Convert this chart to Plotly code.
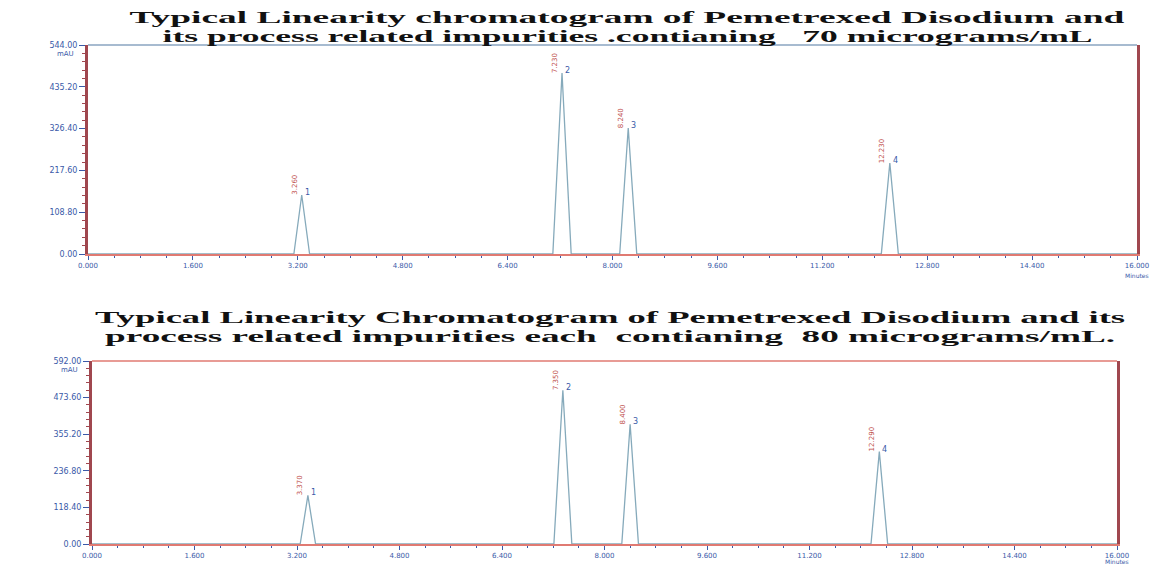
import plotly.graph_objects as go

# Run time axis (minutes) and detector response axis (mAU)
x_ticks = [0.0, 1.6, 3.2, 4.8, 6.4, 8.0, 9.6, 11.2, 12.8, 14.4, 16.0]
x_tick_labels = ["0.000", "1.600", "3.200", "4.800", "6.400", "8.000",
                 "9.600", "11.200", "12.800", "14.400", "16.000"]

# 70 microgram/mL injection
top_y_ticks = [0.0, 108.8, 217.6, 326.4, 435.2, 544.0]
top_rt = [3.26, 7.23, 8.24, 12.23]
top_height = [153.6, 471.0, 328.0, 237.0]
top_halfwidth = [0.12, 0.14, 0.13, 0.13]

# 80 microgram/mL injection
bot_y_ticks = [0.0, 118.4, 236.8, 355.2, 473.6, 592.0]
bot_rt = [3.37, 7.35, 8.40, 12.29]
bot_height = [157.0, 497.5, 387.0, 299.0]
bot_halfwidth = [0.12, 0.14, 0.13, 0.13]

peak_ids = ["1", "2", "3", "4"]

titles_top = ["Typical Linearity chromatogram of Pemetrexed Disodium and",
              "its process related impurities .contianing   70 micrograms/mL"]
titles_bot = ["Typical Linearity Chromatogram of Pemetrexed Disodium and its",
              "process related impurities each  contianing  80 micrograms/mL."]

TRACE = "#86aabb"
TICK_BLUE = "#3a5aa8"
AXIS_RED = "#a0474f"
BASE_RED = "#e07a72"
PEAK_RED = "#c0504d"
W, H = 1162, 565


def trace_xy(rt, height, hw, end=16.0):
    xs, ys = [0.0], [0.0]
    for r, h, w in zip(rt, height, hw):
        xs += [r - w, r, r + w]
        ys += [0.0, h, 0.0]
    xs.append(end)
    ys.append(0.0)
    return xs, ys


fig = go.Figure()

panels = [
    dict(rt=top_rt, h=top_height, hw=top_halfwidth, yt=top_y_ticks,
         xa="x", ya="y", xdom=[88 / W, 1137 / W], ydom=[(H - 254) / H, (H - 45) / H],
         top_line="#8aa4c0", min_shift=-16),
    dict(rt=bot_rt, h=bot_height, hw=bot_halfwidth, yt=bot_y_ticks,
         xa="x2", ya="y2", xdom=[92 / W, 1117 / W], ydom=[(H - 544) / H, (H - 361) / H],
         top_line=BASE_RED, min_shift=-12),
]

annotations = []
shapes = []
for i, p in enumerate(panels):
    xs, ys = trace_xy(p["rt"], p["h"], p["hw"])
    fig.add_trace(go.Scatter(x=xs, y=ys, mode="lines", xaxis=p["xa"], yaxis=p["ya"],
                             line=dict(color=TRACE, width=1.3), showlegend=False,
                             hoverinfo="skip"))
    for r, h, pid in zip(p["rt"], p["h"], peak_ids):
        annotations.append(dict(x=r, y=h, xref=p["xa"], yref=p["ya"], text=f"{r:.3f}",
                                textangle=-90, showarrow=False, xanchor="right",
                                yanchor="bottom", xshift=-1, yshift=-2,
                                font=dict(family="DejaVu Sans", size=7, color=PEAK_RED)))
        annotations.append(dict(x=r, y=h, xref=p["xa"], yref=p["ya"], text=pid,
                                showarrow=False, xanchor="left", yanchor="bottom",
                                xshift=1, yshift=-4,
                                font=dict(family="DejaVu Sans", size=8, color=TICK_BLUE)))
    ymax = p["yt"][-1]
    axis_common = dict(showgrid=False, zeroline=False)
    xkey = "xaxis" if i == 0 else "xaxis2"
    ykey = "yaxis" if i == 0 else "yaxis2"
    fig.update_layout(**{
        xkey: dict(domain=p["xdom"], anchor=p["ya"], range=[0, 16],
                   tickvals=x_ticks, ticktext=x_tick_labels, ticks="outside",
                   ticklen=4, tickcolor=TICK_BLUE, showline=True, linecolor=BASE_RED,
                   linewidth=1.5, mirror=False,
                   minor=dict(ticks="outside", ticklen=2, tickcolor=TICK_BLUE, dtick=0.4),
                   tickfont=dict(family="DejaVu Sans", size=7, color=TICK_BLUE),
                   automargin=False, **axis_common),
        ykey: dict(domain=p["ydom"], anchor=p["xa"], range=[0, ymax],
                   tickvals=p["yt"], ticktext=[f"{v:.2f}" for v in p["yt"]],
                   ticks="outside", ticklen=6, tickcolor=TICK_BLUE, showline=True,
                   linecolor=AXIS_RED, linewidth=3, mirror=True,
                   minor=dict(ticks="outside", ticklen=3, tickcolor=AXIS_RED,
                              dtick=ymax / 25),
                   tickfont=dict(family="DejaVu Sans", size=8, color=TICK_BLUE),
                   automargin=False, **axis_common),
    })
    # top border of the plotting frame
    shapes.append(dict(type="line", xref=f"{p['xa']} domain", yref=f"{p['ya']} domain",
                       x0=0, x1=1, y0=1, y1=1, line=dict(color=p["top_line"], width=1.5)))
    annotations.append(dict(x=0, y=ymax, xref=f"{p['xa']} domain", yref=p["ya"], text="mAU",
                            showarrow=False, xanchor="right", yanchor="top",
                            xshift=-12, yshift=-3,
                            font=dict(family="DejaVu Sans", size=7, color=TICK_BLUE)))
    annotations.append(dict(x=1, y=0, xref=f"{p['xa']} domain", yref=f"{p['ya']} domain",
                            text="Minutes", showarrow=False, xanchor="center",
                            yanchor="top", yshift=p["min_shift"],
                            font=dict(family="DejaVu Sans", size=6, color=TICK_BLUE)))

# Two-line titles, one annotation per line
for line, ypix, xc in [(titles_top[0], 18, 627), (titles_top[1], 37, 627),
                       (titles_bot[0], 318, 610), (titles_bot[1], 337, 610)]:
    annotations.append(dict(x=xc / W, y=(H - ypix) / H, xref="paper", yref="paper",
                            text=line, showarrow=False, xanchor="center", yanchor="middle",
                            font=dict(family="Liberation Serif", size=16, color="#111111",
                                      weight="bold")))

fig.update_layout(width=W, height=H, margin=dict(l=0, r=0, t=0, b=0),
                  paper_bgcolor="white", plot_bgcolor="white",
                  annotations=annotations, shapes=shapes)

# Stretch the title lines horizontally to their full printed width
post = """
var gd = document.getElementById('{plot_id}');
function stretch() {
  var widths = {'Typical Linearity chromatogram': 995, 'its process related': 930,
                'Typical Linearity Chromatogram': 1030, 'process related impurities': 1010};
  gd.querySelectorAll('g.annotation text.annotation-text').forEach(function (t) {
    var s = t.textContent;
    Object.keys(widths).forEach(function (k) {
      if (s.indexOf(k) === 0) {
        t.setAttribute('textLength', widths[k]);
        t.setAttribute('lengthAdjust', 'spacingAndGlyphs');
      }
    });
  });
}
stretch();
gd.on('plotly_afterplot', stretch);
"""

fig.write_html("out.html", post_script=post)
